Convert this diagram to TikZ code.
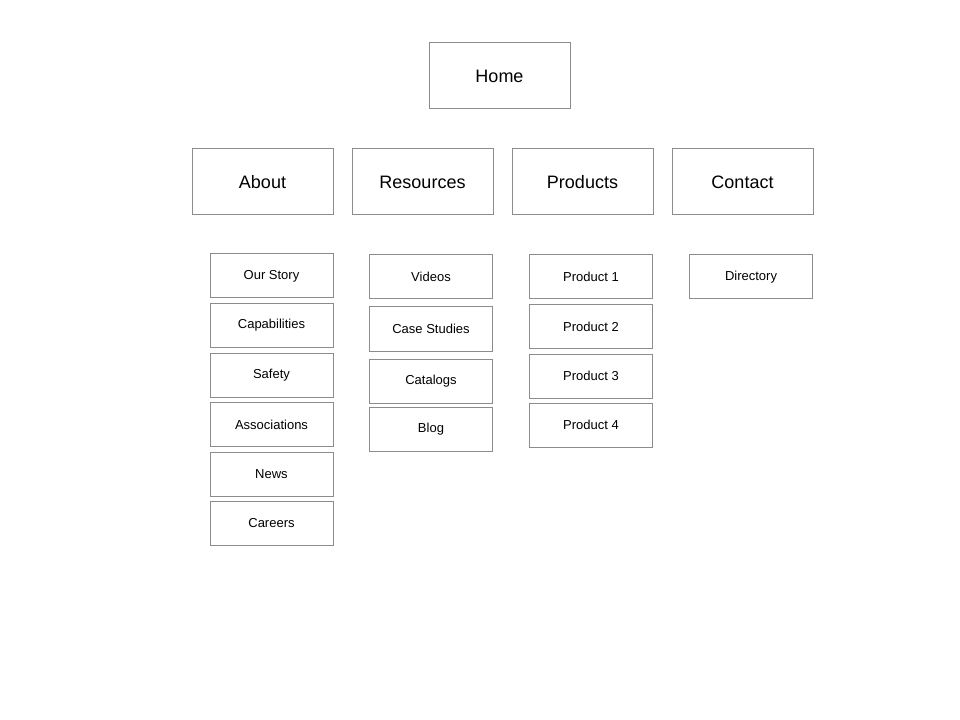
\documentclass[tikz,border=0pt]{standalone}
\usepackage{fontspec}
\setmainfont{Liberation Sans}
\usepackage{tikz}
\usetikzlibrary{shapes}

\definecolor{boxline}{HTML}{8C8C8C}

\tikzset{
  mainbox/.style={draw=boxline,line width=0.75pt,minimum width=105.75pt,minimum height=49.5pt,inner sep=0pt,font=\fontsize{13.5}{16}\selectfont},
  subbox/.style={draw=boxline,line width=0.75pt,minimum width=92.25pt,minimum height=33pt,inner sep=0pt,font=\fontsize{9.75}{12}\selectfont}
}

\begin{document}
\begin{tikzpicture}[x=0.75pt,y=-0.75pt]

  \useasboundingbox (0,0) rectangle (960,720);

  %% Top level
  \node[mainbox] (home) at (499.5,76) {Home};

  %% Main sections
  \node[mainbox] (about) at (262.5,182) {About};
  \node[mainbox] (resources) at (422.5,182) {Resources};
  \node[mainbox] (products) at (582.5,182) {Products};
  \node[mainbox] (contact) at (742.5,182) {Contact};

  %% Pages under About
  \node[subbox] (story) at (271.5,276) {Our Story};
  \node[subbox] (capab) at (271.5,325.5) {Capabilities};
  \node[subbox] (safety) at (271.5,375) {Safety};
  \node[subbox] (assoc) at (271.5,424.5) {Associations};
  \node[subbox] (news) at (271.5,474) {News};
  \node[subbox] (careers) at (271.5,523) {Careers};

  %% Pages under Resources
  \node[subbox] (videos) at (431,277) {Videos};
  \node[subbox] (cases) at (431,329) {Case Studies};
  \node[subbox] (catalogs) at (431,381.5) {Catalogs};
  \node[subbox] (blog) at (431,429) {Blog};

  %% Pages under Products
  \node[subbox] (prodA) at (591,277) {Product 1};
  \node[subbox] (prodB) at (591,326.5) {Product 2};
  \node[subbox] (prodC) at (591,376) {Product 3};
  \node[subbox] (prodD) at (591,425) {Product 4};

  %% Pages under Contact
  \node[subbox] (directory) at (751,277) {Directory};

\end{tikzpicture}
\end{document}
